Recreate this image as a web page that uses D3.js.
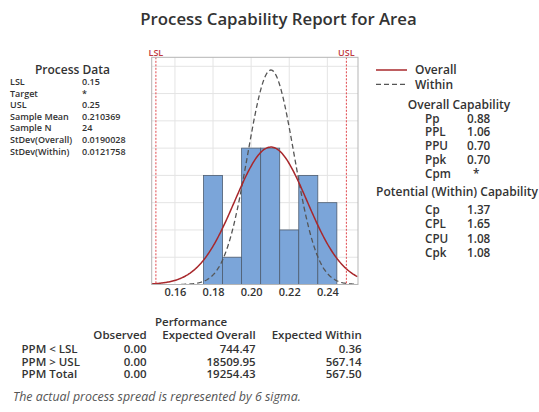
<!DOCTYPE html>
<html><head><meta charset="utf-8">
<script src="https://cdn.jsdelivr.net/npm/d3@7"></script>
<style>
body{margin:0;background:#fff;}
svg{display:block;font-family:"Open Sans","Noto Sans",sans-serif;}
</style></head>
<body><svg id="c" width="539" height="412"></svg>
<script>
// ---- data ----
const binCenters = [0.18, 0.19, 0.20, 0.21, 0.22, 0.23, 0.24];
const binCounts  = [4, 1, 5, 5, 2, 4, 3];
const binWidth = 0.01;
const xTicks = [0.16, 0.18, 0.20, 0.22, 0.24];
const yGrid = [1, 2, 3, 4, 5, 6, 7, 8];
const LSL = 0.15, USL = 0.25;
const sampleMean = 0.210369, sampleN = 24;
const sdOverall = 0.0190028, sdWithin = 0.0121758;
const processLabels = ["LSL","Target","USL","Sample Mean","Sample N","StDev(Overall)","StDev(Within)"];
const processValues = ["0.15","*","0.25","0.210369","24","0.0190028","0.0121758"];
const overallLabels = ["Pp","PPL","PPU","Ppk","Cpm"];
const overallValues = ["0.88","1.06","0.70","0.70","*"];
const withinLabels = ["Cp","CPL","CPU","Cpk"];
const withinValues = ["1.37","1.65","1.08","1.08"];
const perfCols = ["Observed","Expected Overall","Expected Within"];
const perfRows = ["PPM < LSL","PPM > USL","PPM Total"];
const perfObserved = ["0.00","0.00","0.00"];
const perfOverall = ["744.47","18509.95","19254.43"];
const perfWithin = ["0.36","567.14","567.50"];

const svg = d3.select("#c");
const txt = "#333";
const x = d3.scaleLinear().domain([0.1478, 0.2561]).range([151.7, 358]);
const y = d3.scaleLinear().domain([0, 8.33]).range([284.5, 57.3]);

// title
svg.append("text").attr("x", 278.5).attr("y", 25).attr("text-anchor","middle")
  .attr("font-size", 16.8).attr("font-weight",600).attr("fill", txt).text("Process Capability Report for Area");

// grid
const g = svg.append("g");
g.selectAll(".vg").data(xTicks).join("line")
  .attr("x1", d=>x(d)).attr("x2", d=>x(d)).attr("y1", y.range()[1]).attr("y2", y.range()[0])
  .attr("stroke", "#e4e4e4").attr("stroke-width", 1);
g.selectAll(".hg").data(yGrid).join("line")
  .attr("x1", x.range()[0]).attr("x2", x.range()[1]).attr("y1", d=>y(d)).attr("y2", d=>y(d))
  .attr("stroke", "#e4e4e4").attr("stroke-width", 1);

// bars
g.selectAll("rect.bar").data(binCenters).join("rect")
  .attr("x", d=>x(d-binWidth/2)).attr("width", d=>x(d+binWidth/2)-x(d-binWidth/2))
  .attr("y", (d,i)=>y(binCounts[i])).attr("height", (d,i)=>y(0)-y(binCounts[i]))
  .attr("fill", "#7ba5d9").attr("stroke", "#4e5d70").attr("stroke-width", 0.8);

// curves
const pdf = (v, m, s) => Math.exp(-0.5*((v-m)/s)**2)/(s*Math.sqrt(2*Math.PI));
const scaleF = sampleN*binWidth;
const xs = d3.range(0.1478, 0.25615, 0.0005);
const line = d3.line().x(d=>x(d[0])).y(d=>y(d[1])).curve(d3.curveLinear);
svg.append("clipPath").attr("id","pc").append("rect")
  .attr("x", x.range()[0]).attr("y", y.range()[1]).attr("width", x.range()[1]-x.range()[0]).attr("height", y.range()[0]-y.range()[1]);
const cg = svg.append("g").attr("clip-path","url(#pc)");
cg.append("path").datum(xs.filter(v=>v>=0.163).map(v=>[v, pdf(v, sampleMean, sdWithin)*scaleF]))
  .attr("d", line).attr("fill","none").attr("stroke","#555").attr("stroke-width",1.3).attr("stroke-dasharray","5,3");
cg.append("path").datum(xs.map(v=>[v, pdf(v, sampleMean, sdOverall)*scaleF]))
  .attr("d", line).attr("fill","none").attr("stroke","#a8282c").attr("stroke-width",1.5);

// spec lines
[[LSL,"LSL"],[USL,"USL"]].forEach(([v,l])=>{
  svg.append("line").attr("x1",x(v)).attr("x2",x(v)).attr("y1",y.range()[1]).attr("y2",y.range()[0])
    .attr("stroke","#e0474c").attr("stroke-width",1).attr("stroke-dasharray","2,1.5");
  svg.append("text").attr("x",x(v)).attr("y",55.5).attr("text-anchor","middle")
    .attr("font-size",9).attr("font-weight",600).attr("fill","#c0393e").text(l);
});

// frame
svg.append("rect").attr("x", x.range()[0]).attr("y", y.range()[1])
  .attr("width", x.range()[1]-x.range()[0]).attr("height", y.range()[0]-y.range()[1])
  .attr("fill","none").attr("stroke","#b5b5b5").attr("stroke-width",1);

// x axis
const xa = svg.append("g").attr("transform",`translate(0,${y.range()[0]})`)
  .call(d3.axisBottom(x).tickValues(xTicks).tickFormat(d3.format(".2f")).tickSize(0).tickPadding(3.5));
xa.select(".domain").remove();
xa.selectAll("text").attr("font-size",11).attr("font-weight",600).attr("fill",txt)
  .attr("font-family","'Open Sans',sans-serif");

// process data
svg.append("text").attr("x",72.5).attr("y",73.5).attr("text-anchor","middle")
  .attr("font-size",12).attr("font-weight",600).attr("fill",txt).text("Process Data");
processLabels.forEach((l,i)=>{
  const yy = 85 + i*11.6;
  svg.append("text").attr("x",10).attr("y",yy).attr("font-size",9).attr("font-weight",600).attr("fill",txt).text(l);
  svg.append("text").attr("x",82).attr("y",yy).attr("font-size",9).attr("font-weight",600).attr("fill",txt).text(processValues[i]);
});

// legend
svg.append("line").attr("x1",376).attr("x2",407).attr("y1",70).attr("y2",70).attr("stroke","#a8282c").attr("stroke-width",1.5);
svg.append("line").attr("x1",376).attr("x2",407).attr("y1",84.3).attr("y2",84.3).attr("stroke","#555").attr("stroke-width",1.3).attr("stroke-dasharray","5,3");
svg.append("text").attr("x",415).attr("y",74.3).attr("font-size",12).attr("font-weight",600).attr("fill",txt).text("Overall");
svg.append("text").attr("x",415).attr("y",88.6).attr("font-size",12).attr("font-weight",600).attr("fill",txt).text("Within");

// overall capability
svg.append("text").attr("x",459).attr("y",108.5).attr("text-anchor","middle")
  .attr("font-size",12).attr("font-weight",600).attr("fill",txt).text("Overall Capability");
overallLabels.forEach((l,i)=>{
  const yy = 122.5 + i*13.9;
  svg.append("text").attr("x",425).attr("y",yy).attr("font-size",11.7).attr("font-weight",600).attr("fill",txt).text(l);
  svg.append("text").attr("x",467).attr("y",yy).attr("font-size",11.7).attr("font-weight",600).attr("fill",txt)
    .text(overallValues[i]).attr("dx", overallValues[i]==="*"?6:0);
});
svg.append("text").attr("x",457).attr("y",196).attr("text-anchor","middle")
  .attr("font-size",12).attr("font-weight",600).attr("fill",txt).text("Potential (Within) Capability");
withinLabels.forEach((l,i)=>{
  const yy = 214 + i*14.4;
  svg.append("text").attr("x",425).attr("y",yy).attr("font-size",11.7).attr("font-weight",600).attr("fill",txt).text(l);
  svg.append("text").attr("x",467).attr("y",yy).attr("font-size",11.7).attr("font-weight",600).attr("fill",txt).text(withinValues[i]);
});

// performance
svg.append("text").attr("x",191).attr("y",326).attr("text-anchor","middle")
  .attr("font-size",11.5).attr("font-weight",600).attr("fill",txt).text("Performance");
const colX = [146.7, 255.7, 361.7];
perfCols.forEach((c,i)=>{
  svg.append("text").attr("x",colX[i]).attr("y",339.3).attr("text-anchor","end")
    .attr("font-size",11.5).attr("font-weight",600).attr("fill",txt).text(c);
});
const perfData = [perfObserved, perfOverall, perfWithin];
perfRows.forEach((r,i)=>{
  const yy = 353 + i*12.5;
  svg.append("text").attr("x",21.5).attr("y",yy).attr("font-size",11.5).attr("font-weight",600).attr("fill",txt).text(r);
  perfData.forEach((col,j)=>{
    svg.append("text").attr("x",colX[j]).attr("y",yy).attr("text-anchor","end")
      .attr("font-size",11.5).attr("font-weight",600).attr("fill",txt).text(col[i]);
  });
});

// footer
svg.append("text").attr("x",13).attr("y",401).attr("font-size",12.4).attr("font-style","italic")
  .attr("fill","#555").text("The actual process spread is represented by 6 sigma.");
</script></body></html>
